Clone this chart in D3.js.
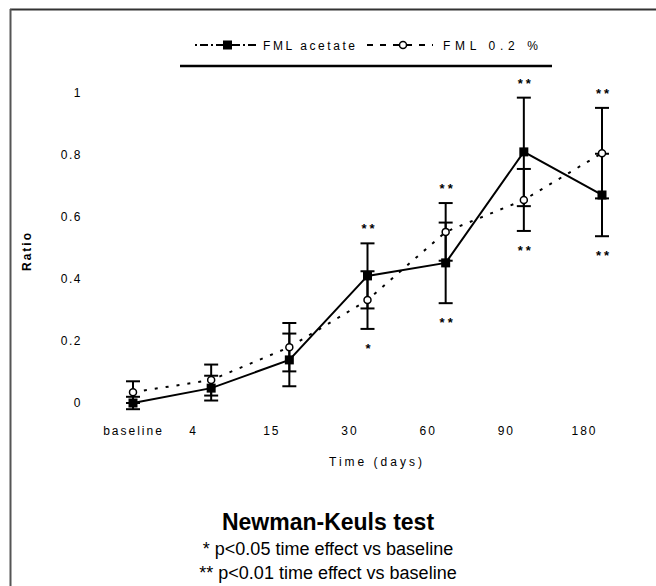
<!DOCTYPE html>
<html><head><meta charset="utf-8">
<script src="https://cdn.jsdelivr.net/npm/d3@7"></script>
<style>body{margin:0;background:#fff}svg{display:block}</style>
</head><body><svg id="c" width="656" height="586"></svg>
<script>
// ---- data ----
const categories = ["baseline", "4", "15", "30", "60", "90", "180"];
const acetateMean = [0.00, 0.048, 0.139, 0.41, 0.452, 0.81, 0.671];
const acetateErr  = [0.02, 0.04, 0.085, 0.105, 0.13, 0.175, 0.133];
const fml02Mean   = [0.035, 0.074, 0.18, 0.332, 0.552, 0.655, 0.806];
const fml02Err    = [0.035, 0.05, 0.078, 0.093, 0.093, 0.10, 0.146];
const starsAbove  = ["", "", "", "**", "**", "**", "**"];
const starsBelow  = ["", "", "", "*", "**", "**", "**"];
const yTicks = [0, 0.2, 0.4, 0.6, 0.8, 1];
const seriesNames = ["FML acetate", "FML 0.2 %"];
const xTitle = "Time (days)";
const yTitle = "Ratio";
const noteTitle = "Newman-Keuls test";
const noteLines = ["* p<0.05 time effect vs baseline", "** p<0.01 time effect vs baseline"];

const svg = d3.select("#c");
const FONT = "'Liberation Sans', Arial, sans-serif";

// frame (top and left edges)
svg.append("line").attr("x1", 10).attr("x2", 656).attr("y1", 9.5).attr("y2", 9.5).attr("stroke", "#333").attr("stroke-width", 2);
svg.append("line").attr("x1", 10.5).attr("x2", 10.5).attr("y1", 9).attr("y2", 586).attr("stroke", "#555").attr("stroke-width", 2);

const x = d3.scalePoint().domain(categories).range([133, 602]);
const y = d3.scaleLinear().domain([0, 1]).range([403, 93]);

// y axis (labels only)
const gy = svg.append("g").attr("transform", "translate(82,0)")
  .call(d3.axisLeft(y).tickValues(yTicks).tickFormat(d3.format("~g")).tickSize(0).tickPadding(0));
gy.select(".domain").remove();
gy.selectAll("text").attr("font-family", FONT).attr("font-size", 12).attr("letter-spacing", 1.5).attr("fill", "#000");

// x axis (labels only)
const gx = svg.append("g").attr("transform", "translate(0,426)")
  .call(d3.axisBottom(x).tickSize(0).tickPadding(0));
gx.select(".domain").remove();
gx.selectAll("text").attr("font-family", FONT).attr("font-size", 12).attr("letter-spacing", 2).attr("fill", "#000")
  .attr("dx", (d, i) => i === 0 ? 0 : -18);

svg.append("text").attr("x", 377).attr("y", 466).attr("text-anchor", "middle")
  .attr("font-family", FONT).attr("font-size", 12).attr("letter-spacing", 3).text(xTitle);
svg.append("text").attr("transform", "translate(31,251) rotate(-90)").attr("text-anchor", "middle")
  .attr("font-family", FONT).attr("font-size", 12).attr("font-weight", "bold").attr("letter-spacing", 2).text(yTitle);

const acetate = categories.map((c, i) => ({c, m: acetateMean[i], e: acetateErr[i]}));
const fml = categories.map((c, i) => ({c, m: fml02Mean[i], e: fml02Err[i]}));

const line = d3.line().x(d => x(d.c)).y(d => y(d.m));

// lines
svg.append("path").datum(fml).attr("d", line).attr("fill", "none").attr("stroke", "#000")
  .attr("stroke-width", 2).attr("stroke-dasharray", "3,8");
svg.append("path").datum(acetate).attr("d", line).attr("fill", "none").attr("stroke", "#000")
  .attr("stroke-width", 2);

// error bars
function errBars(data) {
  const g = svg.append("g").attr("stroke", "#000").attr("stroke-width", 2);
  data.forEach(d => {
    const cx = x(d.c), y1 = y(d.m - d.e), y2 = y(d.m + d.e);
    g.append("line").attr("x1", cx).attr("x2", cx).attr("y1", y1).attr("y2", y2);
    g.append("line").attr("x1", cx - 7).attr("x2", cx + 7).attr("y1", y1).attr("y2", y1);
    g.append("line").attr("x1", cx - 7).attr("x2", cx + 7).attr("y1", y2).attr("y2", y2);
  });
}
errBars(fml);
errBars(acetate);

// markers
svg.append("g").selectAll("circle").data(fml).join("circle")
  .attr("cx", d => x(d.c)).attr("cy", d => y(d.m)).attr("r", 3.5)
  .attr("fill", "#fff").attr("stroke", "#000").attr("stroke-width", 1.5);
svg.append("g").selectAll("rect").data(acetate).join("rect")
  .attr("x", d => x(d.c) - 4.5).attr("y", d => y(d.m) - 4.5).attr("width", 9).attr("height", 9).attr("fill", "#000");

// significance stars
categories.forEach((c, i) => {
  const top = Math.max(acetateMean[i] + acetateErr[i], fml02Mean[i] + fml02Err[i]);
  const bot = Math.min(acetateMean[i] - acetateErr[i], fml02Mean[i] - fml02Err[i]);
  if (starsAbove[i]) svg.append("text").attr("x", x(c) + 2).attr("y", y(top) - 10).attr("text-anchor", "middle")
    .attr("font-family", FONT).attr("font-size", 13).attr("font-weight", "bold").attr("letter-spacing", 3).text(starsAbove[i]);
  if (starsBelow[i]) svg.append("text").attr("x", x(c) + 2).attr("y", y(bot) + 24).attr("text-anchor", "middle")
    .attr("font-family", FONT).attr("font-size", 13).attr("font-weight", "bold").attr("letter-spacing", 3).text(starsBelow[i]);
});

// legend
const lg = svg.append("g");
lg.append("line").attr("x1", 195).attr("x2", 258).attr("y1", 45).attr("y2", 45).attr("stroke", "#000").attr("stroke-width", 2).attr("stroke-dasharray", "2,3,8,3");
lg.append("rect").attr("x", 223).attr("y", 40.5).attr("width", 9).attr("height", 9).attr("fill", "#000");
lg.append("text").attr("x", 263).attr("y", 49.5).attr("font-family", FONT).attr("font-size", 12)
  .attr("textLength", 92).attr("lengthAdjust", "spacing").text(seriesNames[0]);
lg.append("line").attr("x1", 367).attr("x2", 433).attr("y1", 45).attr("y2", 45).attr("stroke", "#000").attr("stroke-width", 2).attr("stroke-dasharray", "6,7");
lg.append("circle").attr("cx", 403).attr("cy", 45).attr("r", 3.5).attr("fill", "#fff").attr("stroke", "#000").attr("stroke-width", 1.5);
lg.append("text").attr("x", 443).attr("y", 49.5).attr("font-family", FONT).attr("font-size", 12)
  .attr("textLength", 95).attr("lengthAdjust", "spacing").text(seriesNames[1]);
lg.append("line").attr("x1", 180).attr("x2", 552).attr("y1", 66).attr("y2", 66).attr("stroke", "#000").attr("stroke-width", 2.5);

// notes
svg.append("text").attr("x", 328).attr("y", 530).attr("text-anchor", "middle").attr("font-family", FONT)
  .attr("font-size", 23).attr("font-weight", "bold").text(noteTitle);
noteLines.forEach((t, i) => svg.append("text").attr("x", 328).attr("y", 555 + i * 24).attr("text-anchor", "middle")
  .attr("font-family", FONT).attr("font-size", 18).text(t));
</script></body></html>
